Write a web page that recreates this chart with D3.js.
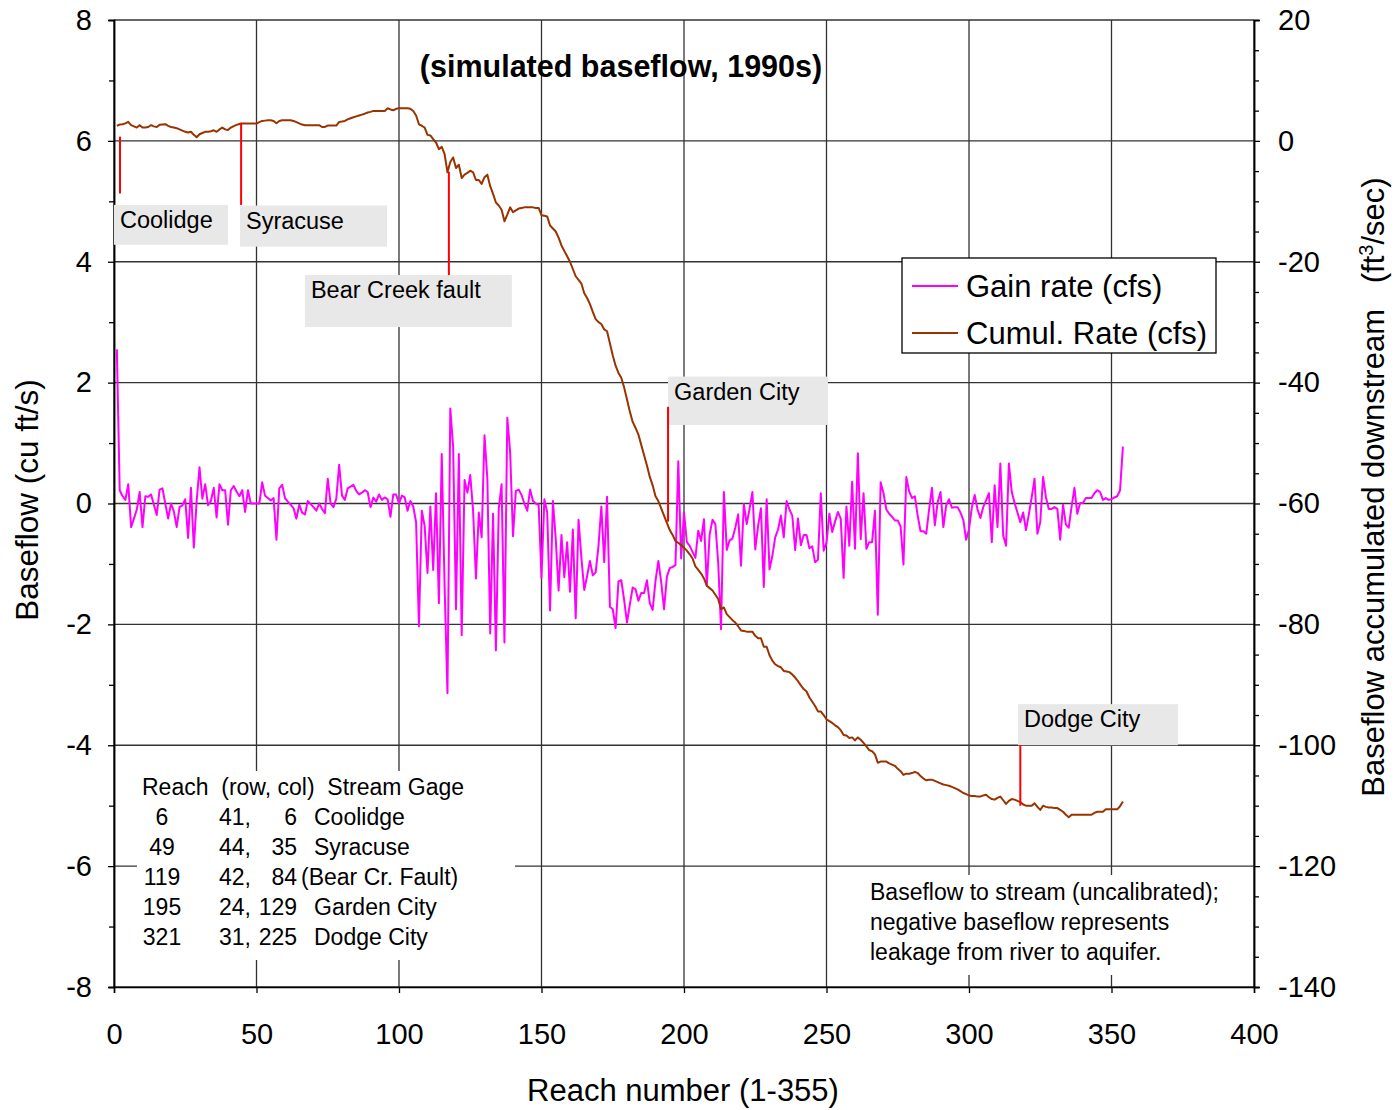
<!DOCTYPE html>
<html>
<head>
<meta charset="utf-8">
<script src="https://d3js.org/d3.v7.min.js"></script>
<style>
  body { margin: 0; background: #fff; }
  text { font-family: "Liberation Sans", Arial, sans-serif; fill: #000; }
</style>
</head>
<body>
<div id="chart"></div>
<script>
// Gain rate per reach (cfs), reaches 1..354
const gainRate = [
  2.55, 0.22, 0.12, 0.06, 0.32, -0.39, -0.25, -0.1, 0.19, -0.39,
  0.12, 0.11, 0.15, -0.02, -0.19, 0.23, 0.25, 0.0, -0.25, 0.0,
  -0.13, -0.39, -0.06, -0.03, 0.07, -0.57, 0.26, -0.73, 0.04, 0.6,
  0.08, 0.32, -0.03, 0.04, 0.26, -0.23, 0.32, 0.22, 0.22, -0.35,
  0.22, 0.29, 0.2, 0.12, 0.22, -0.14, 0.22, 0, 0, 0,
  0, 0.35, 0.13, 0.09, 0.05, 0.09, -0.6, 0.25, 0.31, 0.09,
  0.03, -0.02, -0.08, -0.25, -0.02, -0.15, -0.18, 0.04, -0.01, -0.06,
  -0.12, 0.0, -0.09, -0.16, 0.41, 0, -0.06, 0.08, 0.64, 0.13,
  0.06, 0.25, 0.28, 0.31, 0.21, 0.15, 0.18, 0.22, 0.19, -0.06,
  0.1, 0.03, 0.15, 0.06, 0.1, 0.07, -0.22, 0.15, 0.15, 0,
  0.13, 0.1, -0.12, 0.04, -0.05, -0.31, -2.03, -0.12, -0.37, -1.15,
  -0.05, -1.1, 0.17, -1.65, 0.82, -1.36, -3.14, 1.57, 0.93, -1.75,
  0.82, -2.18, 0.39, 0.18, 0.47, -0.12, -1.24, -0.15, -0.56, 1.13,
  0.41, -2.15, -0.17, -2.43, -0.09, 0.32, -2.3, 1.42, 0.85, -0.54,
  0.21, 0.23, 0.14, 0.0, -0.12, 0.23, 0.04, 0.0, -0.02, -1.23,
  0.07, -0.15, -1.77, 0.04, -0.59, -1.44, -0.52, -1.22, -0.64, -1.46,
  -0.43, -1.9, -0.27, -0.9, -1.43, -1.2, -0.95, -1.19, -1.14, -0.7,
  -0.05, -0.97, 0.11, -1.71, -1.75, -2.06, -1.29, -1.27, -1.6, -1.97,
  -1.67, -1.39, -1.42, -1.61, -1.48, -1.48, -1.27, -1.65, -1.76, -1.28,
  -0.95, -1.3, -1.75, -1.21, -1.07, -1.05, -1.02, 0.7, -0.91, -0.15,
  -0.64, -0.7, -0.8, -0.9, -0.45, -0.62, -0.26, -1.36, -0.51, -0.27,
  -0.34, -0.98, -2.08, 0.19, -0.77, -0.61, -0.58, -0.4, -0.18, -1.03,
  -0.01, -0.34, -0.09, 0.19, -0.76, -0.37, -0.08, -1.38, 0.07, -1.09,
  -0.87, -0.56, -0.43, -0.2, -0.56, 0.04, -0.1, -0.2, -0.77, -0.25,
  -0.69, -0.52, -0.52, -0.74, -0.71, -0.97, -0.93, 0.17, -0.78, -0.65,
  -0.17, -0.47, -0.3, -0.14, -0.25, -1.23, -0.05, -0.7, 0.36, -0.75,
  0.83, -0.59, 0.17, -0.75, -0.64, -0.64, -0.12, -1.84, 0.35, 0.17,
  -0.1, -0.17, -0.22, -0.28, -0.28, -0.38, -1.01, 0.44, 0.2, 0.09,
  0.12, -0.2, -0.46, -0.46, -0.5, -0.1, 0.26, -0.36, 0.02, 0.19,
  -0.39, -0.03, 0.07, -0.07, -0.06, -0.06, -0.15, -0.27, -0.6, -0.43,
  -0.06, 0.14, -0.1, -0.24, -0.06, 0.05, 0.17, -0.64, 0.3, -0.39,
  0.66, -0.53, -0.7, 0.66, 0.19, 0.01, -0.15, -0.31, -0.15, -0.44,
  -0.18, 0.1, 0.41, -0.5, -0.31, 0.44, 0.1, -0.09, -0.09, -0.06,
  -0.09, -0.6, -0.02, -0.35, -0.4, -0.05, 0.26, -0.17, 0.01, 0.01,
  0.09, 0.09, 0.09, 0.17, 0.22, 0.19, 0.06, 0.09, 0.06, 0.07,
  0.1, 0.12, 0.22, 0.94
];

// Cumulative rate per reach (cfs), reaches 1..354
const cumulRate = [
  2.5, 2.7, 2.76, 2.9, 3.14, 2.6, 2.4, 2.2, 2.6, 2.2,
  2.2, 2.3, 2.6, 2.4, 2.3, 2.65, 2.7, 2.76, 2.48, 2.3,
  2.2, 2.1, 1.9, 1.7, 1.5, 1.4, 1.5, 1.0, 0.6, 1.1,
  1.3, 1.5, 1.5, 1.6, 1.75, 1.5, 1.9, 2.2, 1.9, 1.8,
  2.2, 2.45, 2.65, 2.8, 2.87, 2.87, 2.87, 2.87, 2.87, 2.87,
  3.1, 3.3, 3.35, 3.4, 3.42, 3.3, 2.92, 3.3, 3.42, 3.42,
  3.42, 3.42, 3.3, 3.1, 2.9, 2.7, 2.6, 2.6, 2.6, 2.6,
  2.6, 2.6, 2.3, 2.3, 2.54, 2.54, 2.54, 2.54, 3.14, 3.2,
  3.3, 3.55, 3.75, 3.9, 4.05, 4.2, 4.35, 4.5, 4.69, 4.8,
  4.96, 4.96, 4.96, 4.96, 4.96, 5.4, 5.2, 5.07, 5.3, 5.4,
  5.4, 5.4, 5.4, 5.3, 4.95, 4.2, 2.74, 2.5, 2.19, 0.99,
  0.9, 0.3, -0.27, -1.37, -0.99, -2.19, -5.2, -3.5, -2.74, -4.49,
  -3.95, -6.14, -5.59, -5.3, -4.93, -5.2, -6.47, -6.47, -7.12, -6.0,
  -5.59, -7.5, -8.77, -10.2, -10.7, -11.4, -13.3, -12.2, -11, -11.8,
  -11.5, -11.2, -11.1, -11.0, -11.0, -11.0, -11.0, -11.1, -11.1, -12.3,
  -12.4, -12.5, -14.0, -14.5, -15.0, -16.0, -17.3, -18.2, -19.1, -20.0,
  -21.2, -22.4, -23.0, -23.6, -25.2, -26.0, -27.0, -28.3, -29.5, -30.0,
  -30.3, -31.2, -31.5, -33.5, -35.5, -37.2, -38.4, -39.2, -40.8, -42.8,
  -44.8, -46.5, -47.5, -48.6, -50.3, -52.0, -53.7, -55.6, -57.0, -58.8,
  -59.6, -60.8, -62.0, -63.2, -64.4, -65.2, -66.2, -66.5, -66.9, -67.3,
  -67.8, -68.4, -69.1, -70.4, -71.0, -71.6, -72.4, -73.6, -74.0, -74.4,
  -75.1, -75.8, -77.5, -77.2, -78.3, -78.8, -79.3, -79.7, -80.3, -81.0,
  -81.1, -81.2, -81.2, -81.2, -81.9, -82.3, -82.3, -83.7, -83.7, -85.1,
  -86.0, -86.6, -86.9, -87.1, -87.7, -87.8, -87.9, -88.3, -88.8, -89.4,
  -90.1, -90.7, -91.1, -92.1, -92.8, -93.5, -94.4, -94.4, -95.0, -95.7,
  -96.0, -96.3, -96.7, -97.0, -97.5, -98.3, -98.4, -98.8, -98.7, -99.2,
  -98.7, -99.1, -99.6, -100.2, -100.8, -101.0, -101.5, -102.9, -102.7, -102.7,
  -102.7, -103.0, -103.2, -103.4, -103.9, -104.3, -104.9, -104.7, -104.7, -104.6,
  -104.4, -104.6, -105.1, -105.5, -105.8, -105.7, -105.7, -105.9, -106.1, -106.3,
  -106.5, -106.6, -106.7, -106.9, -107.1, -107.3, -107.6, -107.9, -108.1, -108.3,
  -108.4, -108.4, -108.5, -108.5, -108.3, -108.2, -108.6, -108.9, -109.0, -108.7,
  -108.5, -109.1, -109.7, -109.2, -108.9, -109.0, -109.2, -109.4, -109.8, -110.0,
  -110.0, -110.0, -109.6, -110.2, -110.7, -110.0, -110.2, -110.3, -110.3, -110.4,
  -110.4, -110.7, -111.0, -111.5, -111.9, -111.5, -111.5, -111.5, -111.5, -111.5,
  -111.5, -111.5, -111.5, -111.2, -111.0, -111.0, -111.0, -110.6, -110.6, -110.6,
  -110.6, -110.6, -110.1, -109.3
];

// Stream gage table
const gageReach = [6, 49, 119, 195, 321];
const gageRow = [41, 44, 42, 24, 31];
const gageCol = [6, 35, 84, 129, 225];
const gageName = ["Coolidge", "Syracuse", "(Bear Cr. Fault)", "Garden City", "Dodge City"];

// Gage call-outs: marker reach, marker top/bottom (left axis units), box extent
const callouts = [
  { label: "Coolidge",         at: 2.1,   y0: 6.07, y1: 5.13, bx0: 0,     bx1: 40,    by0: 4.94, by1: 4.28 },
  { label: "Syracuse",         at: 44.6,  y0: 6.30, y1: 4.94, bx0: 44.2,  bx1: 95.8,  by0: 4.93, by1: 4.25 },
  { label: "Bear Creek fault", at: 117.5, y0: 5.49, y1: 3.78, bx0: 67,    bx1: 139.6, by0: 3.78, by1: 2.92 },
  { label: "Garden City",      at: 194.4, y0: 1.6,  y1: -0.3, bx0: 194.4, bx1: 250.5, by0: 2.1,  by1: 1.3 },
  { label: "Dodge City",       at: 318,   y0: -4.0, y1: -5.0, bx0: 317.2, bx1: 373.3, by0: -3.32, by1: -4.0 }
];

const noteLines = [
  "Baseflow to stream (uncalibrated);",
  "negative baseflow represents",
  "leakage from river to aquifer."
];

const W = 1395, H = 1110;
const pLeft = 114, pRight = 1254, pTop = 20, pBottom = 987;

const x = d3.scaleLinear().domain([0, 400]).range([pLeft, pRight]);
const yL = d3.scaleLinear().domain([-8, 8]).range([pBottom, pTop]);
const yR = d3.scaleLinear().domain([-140, 20]).range([pBottom, pTop]);

const svg = d3.select("#chart").append("svg")
  .attr("width", W).attr("height", H);

// grid
const grid = svg.append("g").attr("stroke", "#333").attr("stroke-width", 1.3);
grid.selectAll(".h").data(d3.range(-8, 9, 2)).enter().append("line")
  .attr("x1", pLeft).attr("x2", pRight)
  .attr("y1", d => yL(d)).attr("y2", d => yL(d));
grid.selectAll(".v").data(d3.range(0, 401, 50)).enter().append("line")
  .attr("y1", pTop).attr("y2", pBottom)
  .attr("x1", d => x(d)).attr("x2", d => x(d));

// axes
const fs = "29px";
const axL = svg.append("g").attr("transform", "translate(" + pLeft + ",0)")
  .call(d3.axisLeft(yL).tickValues(d3.range(-8, 9, 2)).tickSize(6).tickPadding(16));
svg.append("g").attr("transform", "translate(" + pLeft + ",0)")
  .call(d3.axisLeft(yL).tickValues(d3.range(-7, 8, 2)).tickSize(5).tickFormat(""));
const axB = svg.append("g").attr("transform", "translate(0," + pBottom + ")")
  .call(d3.axisBottom(x).tickValues(d3.range(0, 401, 50)).tickSize(6).tickPadding(30));
const axR = svg.append("g").attr("transform", "translate(" + pRight + ",0)")
  .call(d3.axisRight(yR).tickValues(d3.range(-140, 21, 20)).tickSize(6).tickPadding(18));
svg.append("g").attr("transform", "translate(" + pRight + ",0)")
  .call(d3.axisRight(yR).tickValues(d3.range(-135, 20, 5).filter(v => v % 20 !== 0)).tickSize(5).tickFormat(""));

svg.selectAll(".domain").attr("stroke", "#000").attr("stroke-width", 1.5);
svg.selectAll(".tick line").attr("stroke", "#000").attr("stroke-width", 1.3);
[axL, axB, axR].forEach(a => a.selectAll("text")
  .style("font-family", "'Liberation Sans', Arial, sans-serif")
  .style("font-size", fs).attr("fill", "#000"));
axL.selectAll("text").text(d => d < 0 ? "-" + Math.abs(d) : d);
axR.selectAll("text").text(d => d < 0 ? "-" + Math.abs(d) : d);

// note & table backgrounds (hide grid under them)
svg.append("rect").attr("x", 137).attr("y", 771).attr("width", 378).attr("height", 189).attr("fill", "#fff");
svg.append("rect").attr("x", 862).attr("y", 875).attr("width", 388).attr("height", 100).attr("fill", "#fff");

// series
const reaches = gainRate.map((d, i) => i + 1);
svg.append("path")
  .datum(reaches)
  .attr("fill", "none").attr("stroke", "#ff00ff").attr("stroke-width", 2)
  .attr("stroke-linejoin", "round")
  .attr("d", d3.line().x(r => x(r)).y(r => yL(gainRate[r - 1])));
svg.append("path")
  .datum(reaches)
  .attr("fill", "none").attr("stroke", "#993300").attr("stroke-width", 2)
  .attr("stroke-linejoin", "round")
  .attr("d", d3.line().x(r => x(r)).y(r => yR(cumulRate[r - 1])));

// gage call-outs
const co = svg.append("g");
co.selectAll("rect").data(callouts).enter().append("rect")
  .attr("x", d => x(d.bx0)).attr("y", d => yL(d.by0))
  .attr("width", d => x(d.bx1) - x(d.bx0)).attr("height", d => yL(d.by1) - yL(d.by0))
  .attr("fill", "#e8e8e8");
co.selectAll("line").data(callouts).enter().append("line")
  .attr("x1", d => x(d.at)).attr("x2", d => x(d.at))
  .attr("y1", d => yL(d.y0)).attr("y2", d => yL(d.y1))
  .attr("stroke", "#ff0000").attr("stroke-width", 2);
co.selectAll("text").data(callouts).enter().append("text")
  .attr("x", d => x(d.bx0) + 6).attr("y", d => yL(d.by0) + 23)
  .style("font-size", "23.5px").text(d => d.label);

// title
svg.append("text").attr("x", 621).attr("y", 77).attr("text-anchor", "middle")
  .style("font-size", "30.5px").style("font-weight", "bold")
  .text("(simulated baseflow, 1990s)");

// legend
const lg = svg.append("g");
lg.append("rect").attr("x", 902).attr("y", 258).attr("width", 314).attr("height", 95)
  .attr("fill", "#fff").attr("stroke", "#000").attr("stroke-width", 1.3);
[["Gain rate (cfs)", "#ff00ff", 286], ["Cumul. Rate (cfs)", "#993300", 333]].forEach(e => {
  lg.append("line").attr("x1", 912).attr("x2", 958).attr("y1", e[2]).attr("y2", e[2])
    .attr("stroke", e[1]).attr("stroke-width", 2);
  lg.append("text").attr("x", 966).attr("y", e[2] + 11).style("font-size", "31px").text(e[0]);
});

// gage table
const tb = svg.append("g").style("font-size", "23px");
tb.append("text").attr("x", 142).attr("y", 795).style("white-space", "pre")
  .text("Reach  (row, col)  Stream Gage");
gageReach.forEach((r, i) => {
  const yy = 825 + i * 30;
  tb.append("text").attr("x", 162).attr("y", yy).attr("text-anchor", "middle").text(r);
  tb.append("text").attr("x", 251).attr("y", yy).attr("text-anchor", "end").text(gageRow[i] + ",");
  tb.append("text").attr("x", 297).attr("y", yy).attr("text-anchor", "end").text(gageCol[i]);
  tb.append("text").attr("x", gageName[i].startsWith("(") ? 301 : 314).attr("y", yy).text(gageName[i]);
});

// note
svg.append("g").style("font-size", "23px").selectAll("text").data(noteLines).enter().append("text")
  .attr("x", 870).attr("y", (d, i) => 900 + i * 30).text(d => d);

// axis titles
svg.append("text").attr("transform", "translate(38,500) rotate(-90)")
  .attr("text-anchor", "middle").style("font-size", "31.5px").text("Baseflow (cu ft/s)");
const rt = svg.append("text").attr("transform", "translate(1384,487) rotate(-90)")
  .attr("text-anchor", "middle").style("font-size", "31px").style("white-space", "pre");
rt.append("tspan").text("Baseflow accumulated downstream   (ft");
rt.append("tspan").attr("dy", -11).style("font-size", "20px").text("3");
rt.append("tspan").attr("dy", 11).text("/sec)");
svg.append("text").attr("x", 683).attr("y", 1101).attr("text-anchor", "middle")
  .style("font-size", "31px").text("Reach number (1-355)");
</script>
</body>
</html>
